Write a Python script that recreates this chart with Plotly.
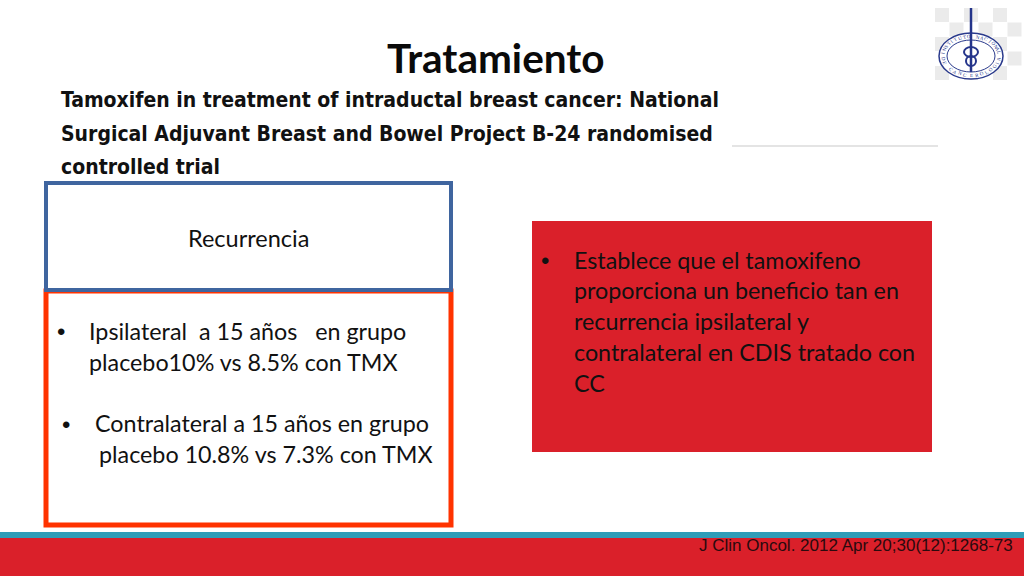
import math

import plotly.graph_objects as go

BODY_FONT = "Lato"
RED = "#DA202A"

title = "Tratamiento"
subtitle_lines = [
    "Tamoxifen in treatment of intraductal breast cancer: National",
    "Surgical Adjuvant Breast and Bowel Project B-24 randomised",
    "controlled trial",
]
subtitle_y = [100, 134, 167]
left_heading = "Recurrencia"
left_lines = [
    "Ipsilateral\u00a0 a 15 años\u00a0\u00a0 en grupo",
    "placebo10% vs 8.5% con TMX",
    "Contralateral a 15 años en grupo",
    "placebo 10.8% vs 7.3% con TMX",
]
left_x = [87, 87, 93, 97]
left_y = [331, 362, 423, 454]
left_bullets = [(61, 331), (66, 424)]
right_lines = [
    "Establece que el tamoxifeno",
    "proporciona un beneficio tan en",
    "recurrencia ipsilateral y",
    "contralateral en CDIS tratado con",
    "CC",
]
right_y = [260, 290, 321, 352, 383]
citation = "J Clin Oncol. 2012 Apr 20;30(12):1268-73"
logo_top = "INSTITUTO NACIONAL"
logo_bottom = "DE CANCEROLOGIA"

fig = go.Figure()


def add_text(text, x, y, size, color="#111111", family=BODY_FONT, anchor="left", angle=0):
    fig.add_annotation(
        x=x, y=y, text=text, showarrow=False, xanchor=anchor, yanchor="middle",
        textangle=angle, font=dict(family=family, size=size, color=color),
    )


def add_box(x0, y0, x1, y1, line_color=None, width=0, fill=None):
    fig.add_shape(
        type="rect", x0=x0, y0=y0, x1=x1, y1=y1,
        line=dict(color=line_color or "rgba(0,0,0,0)", width=width),
        fillcolor=fill or "rgba(0,0,0,0)",
    )


# footer bands
add_box(0, 538, 1024, 576, fill=RED)
add_box(0, 532, 1024, 538, fill="#2E9DB8")

# boxes
add_box(46, 291, 451, 525, line_color="#FF3300", width=5)
add_box(46, 183, 451, 290, line_color="#3F659F", width=4)
add_box(532, 221, 932, 452, fill=RED)

# thin rule under the logo
fig.add_shape(type="line", x0=732, y0=146, x1=938, y1=146, line=dict(color="#C9C9C9", width=1))

# logo: faint checker, ring, staff
for col in range(6):
    for row in range(5):
        if (col + row) % 2 == 0:
            add_box(935 + col * 14.5, 8 + row * 14.5, 949 + col * 14.5, 22 + row * 14.5, fill="#EBEBEB")
fig.add_shape(type="circle", x0=939, y0=33, x1=1003, y1=79, fillcolor="white",
              line=dict(color="#2A3A8C", width=1.5))
fig.add_shape(type="circle", x0=947, y0=40, x1=995, y1=72, fillcolor="white",
              line=dict(color="#2A3A8C", width=1))
fig.add_shape(type="line", x0=971, y0=8, x1=971, y1=72, line=dict(color="#24348A", width=2.5))
fig.add_shape(type="circle", x0=964, y0=47, x1=978, y1=57, line=dict(color="#24348A", width=2))
fig.add_shape(type="circle", x0=966, y0=56, x1=976, y1=66, line=dict(color="#24348A", width=2))
for i, ch in enumerate(logo_top):
    a = math.radians(170 - i * 160 / (len(logo_top) - 1))
    add_text(ch, 971 + 28 * math.cos(a), 56 - 19.5 * math.sin(a), 5, color="#24348A",
             family="Liberation Serif", anchor="center", angle=90 - math.degrees(a))
for i, ch in enumerate(logo_bottom):
    a = math.radians(190 + i * 160 / (len(logo_bottom) - 1))
    add_text(ch, 971 + 28 * math.cos(a), 56 - 19.5 * math.sin(a), 5, color="#24348A",
             family="Liberation Serif", anchor="center", angle=-90 - math.degrees(a))

# text
add_text("<b>" + title + "</b>", 496, 57, 40.5, color="#0A0A0A", anchor="center")
for line, y in zip(subtitle_lines, subtitle_y):
    add_text("<b>" + line + "</b>", 59, y, 21, color="#111111", family="DejaVu Sans Condensed")
add_text(left_heading, 248, 238, 23.5, anchor="center")
for line, x, y in zip(left_lines, left_x, left_y):
    add_text(line, x, y, 23.3)
for x, y in left_bullets:
    add_text("•", x, y, 24, family="Liberation Sans", anchor="center")
add_text("•", 545, 260, 24, family="Liberation Sans", anchor="center")
for line, y in zip(right_lines, right_y):
    add_text(line, 572, y, 23.3)
add_text(citation, 1015, 545, 17, color="#2A0A0E", family="Liberation Sans", anchor="right")

fig.update_xaxes(range=[0, 1024], visible=False)
fig.update_yaxes(range=[576, 0], visible=False)
fig.update_layout(
    width=1024, height=576, margin=dict(l=0, r=0, t=0, b=0),
    paper_bgcolor="white", plot_bgcolor="white", showlegend=False,
)

fig.write_html("out.html", config={"displayModeBar": False},
               post_script="document.body.style.margin = '0';")
